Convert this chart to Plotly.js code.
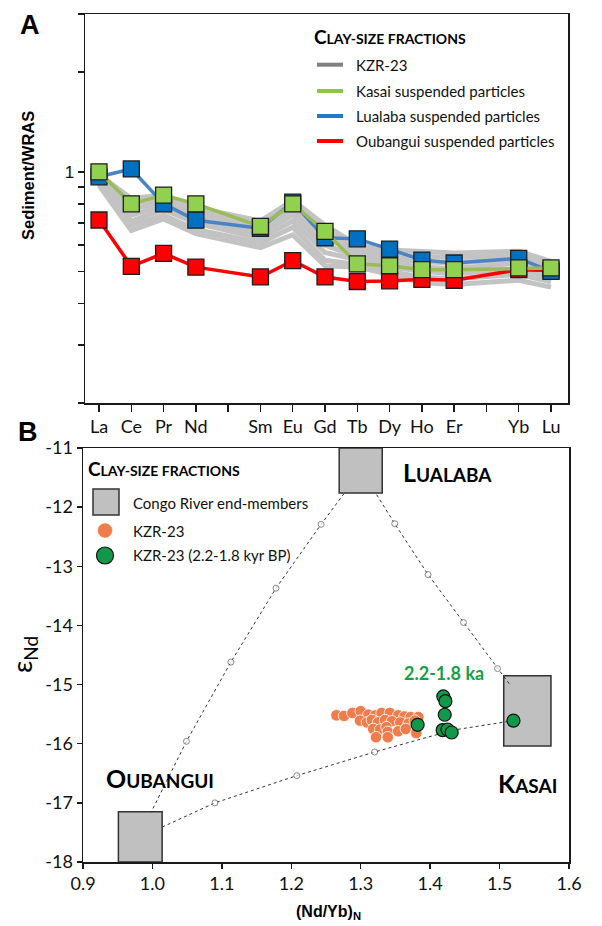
<!DOCTYPE html>
<html>
<head>
<meta charset="utf-8">
<script src="https://cdn.plot.ly/plotly-3.0.1.min.js"></script>
<style>html,body{margin:0;padding:0;background:#fff;}#chart{width:602px;height:926px;}</style>
</head>
<body>
<div id="chart"></div>
<script>
// ---------- Panel A data ----------
const reeX = [1, 2, 3, 4, 6, 7, 8, 9, 10, 11, 12, 14, 15];
const tickPos = [1, 2, 3, 4, 6, 7, 8, 9, 10, 11, 12, 14, 15];
const tickLabels = ['La', 'Ce', 'Pr', 'Nd', 'Sm', 'Eu', 'Gd', 'Tb', 'Dy', 'Ho', 'Er', 'Yb', 'Lu'];
const gapTicks = [5, 13];  // Pm, Tm (unlabelled)
const kasai    = [1.00, 0.80, 0.85, 0.80, 0.684, 0.80, 0.661, 0.527, 0.52, 0.506, 0.506, 0.512, 0.512];
const lualaba  = [0.966, 1.02, 0.80, 0.714, 0.675, 0.81, 0.632, 0.627, 0.584, 0.541, 0.53, 0.547, 0.50];
const oubangui = [0.715, 0.518, 0.567, 0.515, 0.481, 0.539, 0.481, 0.466, 0.468, 0.473, 0.47, 0.506, 0.503];
const kzr1 = [0.98, 0.83, 0.85, 0.78, 0.71, 0.82, 0.69, 0.60, 0.58, 0.575, 0.568, 0.575, 0.536];
const kzr2 = [0.97, 0.80, 0.83, 0.76, 0.69, 0.79, 0.66, 0.585, 0.56, 0.555, 0.55, 0.56, 0.525];
const kzr3 = [0.96, 0.77, 0.81, 0.74, 0.67, 0.77, 0.63, 0.57, 0.545, 0.535, 0.53, 0.545, 0.51];
const kzr4 = [0.95, 0.74, 0.79, 0.72, 0.65, 0.74, 0.60, 0.555, 0.53, 0.515, 0.51, 0.53, 0.495];
const kzr5 = [0.94, 0.71, 0.77, 0.70, 0.63, 0.71, 0.57, 0.54, 0.515, 0.50, 0.492, 0.51, 0.48];
const kzr6 = [0.92, 0.69, 0.74, 0.67, 0.61, 0.68, 0.54, 0.525, 0.50, 0.48, 0.475, 0.49, 0.465];
const kzr7 = [0.91, 0.665, 0.72, 0.65, 0.59, 0.645, 0.52, 0.515, 0.49, 0.462, 0.456, 0.47, 0.448];
const yMajorVals = [1];
const yMajorText = ['1'];
const yMinorVals = [0.2, 0.3, 0.4, 0.5, 0.6, 0.7, 0.8, 0.9, 2, 3];
const legendA = ['KZR-23', 'Kasai suspended particles', 'Lualaba suspended particles', 'Oubangui suspended particles'];

// ---------- Panel B data ----------
const kzrX = [1.265,1.276,1.288,1.300,1.311,1.321,1.330,1.342,1.354,1.363,1.372,1.383,1.299,1.309,1.316,1.325,1.335,1.345,1.357,1.369,1.378,1.318,1.328,1.337,1.339,1.354,1.365,1.322,1.339,1.380];
const kzrY = [-15.52,-15.53,-15.48,-15.45,-15.51,-15.52,-15.48,-15.48,-15.52,-15.54,-15.55,-15.55,-15.61,-15.64,-15.60,-15.64,-15.60,-15.62,-15.64,-15.66,-15.61,-15.75,-15.76,-15.72,-15.80,-15.79,-15.75,-15.89,-15.89,-15.82];
const grnX = [1.382, 1.419, 1.422, 1.421, 1.418, 1.425, 1.431, 1.520];
const grnY = [-15.68, -15.20, -15.28, -15.51, -15.77, -15.76, -15.81, -15.61];
const mixLO_x = [1.276, 1.243, 1.178, 1.113, 1.049, 0.998];
const mixLO_y = [-11.77, -12.29, -13.37, -14.62, -15.96, -17.16];
const mixLK_x = [1.323, 1.349, 1.397, 1.448, 1.497, 1.516];
const mixLK_y = [-11.79, -12.28, -13.14, -13.95, -14.73, -15.02];
const mixOK_x = [1.014, 1.090, 1.208, 1.320, 1.433, 1.520];
const mixOK_y = [-17.41, -17.00, -16.54, -16.14, -15.77, -15.61];
const endNames = ['Lualaba', 'Oubangui', 'Kasai'];
const endX0 = [1.269, 0.951, 1.506];
const endX1 = [1.331, 1.014, 1.574];
const endY0 = [-11.76, -18.0, -16.04];
const endY1 = [-11.0, -17.15, -14.85];
const yTickValsB = [-18, -17, -16, -15, -14, -13, -12, -11];
const yTickTextB = ['-18', '-17', '-16', '-15', '-14', '-13', '-12', '-11'];
const legendB = ['Congo River end-members', 'KZR-23', 'KZR-23 (2.2-1.8 kyr BP)'];

// ---------- helpers ----------
const W = 602, H = 926;
const PX = p => p / W;
const PY = p => 1 - p / H;
const CAL = 'Lato, "Open Sans", sans-serif';
const ARI = '"Liberation Sans", Arial, sans-serif';
const sc = (big, rest, small) => big + '<span style="font-size:' + small + 'px">' + rest + '</span>';

const traces = [];
[kzr1, kzr2, kzr3, kzr4, kzr5, kzr6, kzr7].forEach(s => {
  traces.push({x: reeX, y: s, xaxis: 'x', yaxis: 'y', mode: 'lines', type: 'scatter',
    line: {color: '#c3c3c3', width: 5}, hoverinfo: 'skip'});
});
const sqMarker = (c) => ({symbol: 'square', size: 16, color: c, line: {color: '#1e1e1e', width: 1.3}});
traces.push({x: reeX, y: oubangui, xaxis: 'x', yaxis: 'y', mode: 'lines+markers', type: 'scatter',
  line: {color: '#ff0000', width: 3.5}, marker: sqMarker('#ff0000')});
traces.push({x: reeX, y: lualaba, xaxis: 'x', yaxis: 'y', mode: 'lines+markers', type: 'scatter',
  line: {color: '#4a84c4', width: 3.5}, marker: sqMarker('#0070c0')});
traces.push({x: reeX, y: kasai, xaxis: 'x', yaxis: 'y', mode: 'lines+markers', type: 'scatter',
  line: {color: '#9bbb59', width: 3.5}, marker: sqMarker('#92d050')});

// Panel B
const mixStyle = {color: '#333', width: 1, dash: '3px,3px'};
const mixMarker = {size: [0, 6, 6, 6, 6, 0], color: '#fff', line: {color: '#555', width: 1}};
[[mixLO_x, mixLO_y], [mixLK_x, mixLK_y], [mixOK_x, mixOK_y]].forEach(([mx, my]) => {
  traces.push({x: mx, y: my, xaxis: 'x2', yaxis: 'y2', mode: 'lines+markers', type: 'scatter',
    line: mixStyle, marker: mixMarker, hoverinfo: 'skip'});
});
traces.push({x: kzrX, y: kzrY, xaxis: 'x2', yaxis: 'y2', mode: 'markers', type: 'scatter',
  marker: {size: 11.5, color: '#ee7d4b', line: {color: '#fff', width: 0.8}}});
traces.push({x: grnX, y: grnY, xaxis: 'x2', yaxis: 'y2', mode: 'markers', type: 'scatter',
  marker: {size: 13, color: '#12984a', line: {color: '#111', width: 1.2}}});

const shapes = [];
// gridline at 1 (log axis -> log10(1)=0)
shapes.push({type: 'line', xref: 'paper', x0: PX(85), x1: PX(568), yref: 'y', y0: 0, y1: 0,
  line: {color: '#d6d6d6', width: 2}, layer: 'below'});
endNames.forEach((n, i) => {
  shapes.push({type: 'rect', xref: 'x2', yref: 'y2', x0: endX0[i], x1: endX1[i], y0: endY0[i], y1: endY1[i],
    fillcolor: '#c0c0c0', line: {color: '#333', width: 1.5}, layer: 'below'});
});

const annotations = [];
const ann = (o) => annotations.push(Object.assign({xref: 'paper', yref: 'paper', showarrow: false,
  xanchor: 'left', yanchor: 'middle'}, o));

// Panel letters & axis titles
ann({text: '<b>A</b>', x: PX(18), y: PY(25), font: {family: ARI, size: 27, color: '#000'}});
ann({text: '<b>B</b>', x: PX(16), y: PY(432), font: {family: ARI, size: 27, color: '#000'}});
ann({text: '<b>Sediment/WRAS</b>', x: PX(28), y: PY(176), xanchor: 'center', textangle: -90,
  font: {family: ARI, size: 16.5, color: '#000'}});
ann({text: 'ε<sub>Nd</sub>', x: PX(23), y: PY(655), xanchor: 'center', textangle: -90,
  font: {family: CAL, size: 27, color: '#000'}});
ann({text: '<b>(Nd/Yb)<sub>N</sub></b>', x: PX(328), y: PY(912), xanchor: 'center',
  font: {family: ARI, size: 16, color: '#000'}});

// Legend A
ann({text: '<b>' + sc('C', 'LAY-SIZE FRACTIONS', 14) + '</b>', x: PX(312), y: PY(37),
  font: {family: CAL, size: 19, color: '#000'}});
const legAcol = ['#808080', '#8dc63f', '#1f78c8', '#ff0000'];
const legAy = [64.7, 91, 116, 141];
legendA.forEach((t, i) => {
  shapes.push({type: 'line', xref: 'paper', yref: 'paper', x0: PX(317), x1: PX(343), y0: PY(legAy[i]), y1: PY(legAy[i]),
    line: {color: legAcol[i], width: 4}});
  ann({text: t, x: PX(354), y: PY(legAy[i]), font: {family: CAL, size: 15, color: '#111'}});
});

// Legend B
ann({text: '<b>' + sc('C', 'LAY-SIZE FRACTIONS', 14) + '</b>', x: PX(86), y: PY(468),
  font: {family: CAL, size: 19, color: '#000'}});
shapes.push({type: 'rect', xref: 'paper', yref: 'paper', x0: PX(93), x1: PX(119), y0: PY(515), y1: PY(489),
  fillcolor: '#c0c0c0', line: {color: '#333', width: 1.5}});
shapes.push({type: 'circle', xref: 'paper', yref: 'paper', x0: PX(97.5), x1: PX(112.5), y0: PY(538), y1: PY(523),
  fillcolor: '#ee7d4b', line: {color: '#fff', width: 0.5}});
shapes.push({type: 'circle', xref: 'paper', yref: 'paper', x0: PX(96.5), x1: PX(113.5), y0: PY(564), y1: PY(547),
  fillcolor: '#12984a', line: {color: '#111', width: 1.2}});
const legBy = [503, 531, 555];
legendB.forEach((t, i) => {
  ann({text: t, x: PX(131), y: PY(legBy[i]), font: {family: CAL, size: 15, color: '#111'}});
});

// End-member labels
ann({text: '<b>' + sc('L', 'UALABA', 19) + '</b>', x: PX(401), y: PY(472), font: {family: CAL, size: 25, color: '#000'}});
ann({text: '<b>' + sc('O', 'UBANGUI', 19) + '</b>', x: PX(104), y: PY(778), font: {family: CAL, size: 25, color: '#000'}});
ann({text: '<b>' + sc('K', 'ASAI', 19) + '</b>', x: PX(496), y: PY(783), font: {family: CAL, size: 25, color: '#000'}});
ann({text: '<b>2.2-1.8 ka</b>', x: PX(444), y: PY(673), xanchor: 'center', font: {family: CAL, size: 18, color: '#16a04a'}});

const axLine = {showline: true, linecolor: '#1a1a1a', linewidth: 1.5, mirror: true, zeroline: false, showgrid: false,
  ticks: 'outside', tickcolor: '#1a1a1a', tickwidth: 1.5};

const layout = {
  width: W, height: H, margin: {l: 0, r: 0, t: 0, b: 0},
  paper_bgcolor: '#fff', plot_bgcolor: '#fff', showlegend: false,
  xaxis: Object.assign({}, axLine, {domain: [PX(85), PX(568)], range: [0.566, 15.526], anchor: 'y',
    tickmode: 'array', tickvals: tickPos, ticktext: tickLabels, ticklen: 7,
    minor: {tickmode: 'array', tickvals: gapTicks, ticks: 'outside', ticklen: 7, tickwidth: 1.5, tickcolor: '#1a1a1a', showgrid: false},
    tickfont: {family: CAL, size: 18, color: '#111'}}),
  yaxis: Object.assign({}, axLine, {domain: [PY(403), PY(14)], type: 'log', range: [Math.log10(0.2), Math.log10(3)],
    anchor: 'x', tickmode: 'array', tickvals: yMajorVals, ticktext: yMajorText, ticklen: 6,
    minor: {tickmode: 'array', tickvals: yMinorVals, ticks: 'outside', ticklen: 6, tickwidth: 1.5, tickcolor: '#1a1a1a', showgrid: false},
    tickfont: {family: ARI, size: 17, color: '#111'}}),
  xaxis2: Object.assign({}, axLine, {domain: [PX(83), PX(569)], range: [0.9, 1.6], anchor: 'y2',
    tickmode: 'linear', tick0: 0.9, dtick: 0.1, tickformat: '.1f', ticklen: 5,
    tickfont: {family: CAL, size: 18, color: '#111'}}),
  yaxis2: Object.assign({}, axLine, {domain: [PY(862), PY(448)], range: [-18, -11], anchor: 'x2',
    tickmode: 'array', tickvals: yTickValsB, ticktext: yTickTextB, ticklen: 5,
    tickfont: {family: CAL, size: 18, color: '#111'}}),
  shapes: shapes, annotations: annotations
};

Plotly.newPlot('chart', traces, layout, {staticPlot: true, displayModeBar: false});
</script>
</body>
</html>
